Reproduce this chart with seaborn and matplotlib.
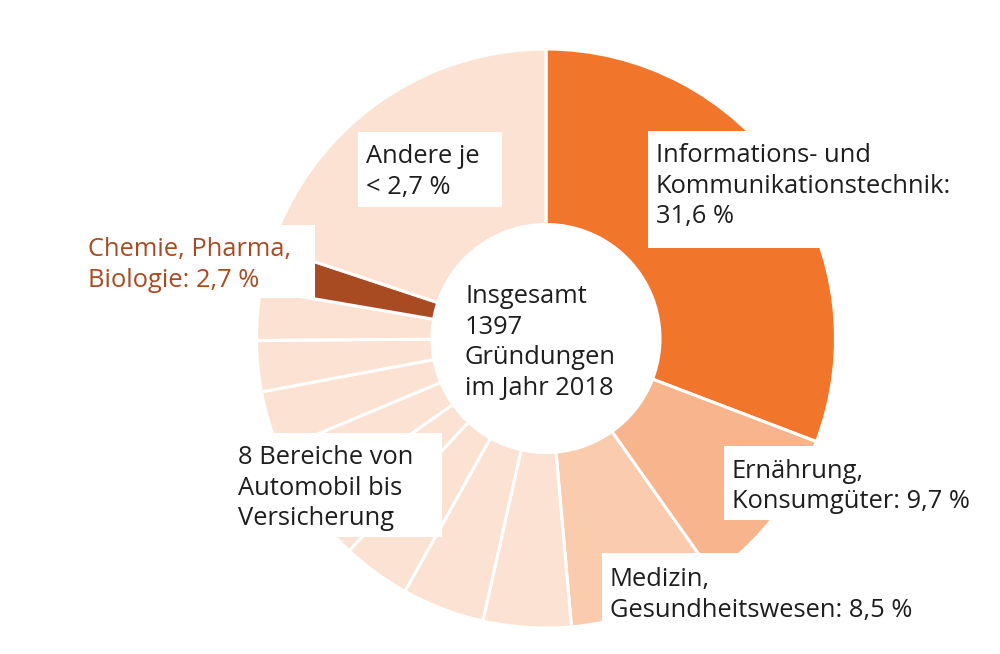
import matplotlib
matplotlib.use('Agg')
import matplotlib.pyplot as plt
from matplotlib.patches import Rectangle
import seaborn as sns

# Anteile im Uhrzeigersinn ab 12 Uhr (in %)
bereiche = ['Informations- und Kommunikationstechnik', 'Ernährung, Konsumgüter',
            'Medizin, Gesundheitswesen',
            'Bereich 1', 'Bereich 2', 'Bereich 3', 'Bereich 4',
            'Bereich 5', 'Bereich 6', 'Bereich 7', 'Bereich 8',
            'Chemie, Pharma, Biologie', 'Andere']
anteile = [30.8, 9.4, 8.4, 4.9, 4.6, 3.8, 3.3, 3.5, 3.35, 2.85, 2.8, 2.4, 19.9]
farben = ['#F2752C', '#F8B58D', '#FBCBAD'] + ['#FCE2D2'] * 8 + ['#A84B23', '#FCE2D2']

# Beschriftungen
label_mitte = ['Insgesamt', '1397', 'Gründungen', 'im Jahr 2018']
label_ikt = ['Informations- und', 'Kommunikationstechnik:', '31,6 %']
label_ern = ['Ernährung,', 'Konsumgüter: 9,7 %']
label_med = ['Medizin,', 'Gesundheitswesen: 8,5 %']
label_acht = ['8 Bereiche von', 'Automobil bis', 'Versicherung']
label_chemie = ['Chemie, Pharma,', 'Biologie: 2,7 %']
label_andere = ['Andere je', '< 2,7 %']

sns.set_style('white')
plt.rcParams['font.family'] = ['Open Sans', 'DejaVu Sans']

textfarbe = '#1E1E1E'
zeilenabstand = 30.7

fig = plt.figure(figsize=(10, 6.54), dpi=100)
ax = fig.add_axes([0, 0, 1, 1])

# y-Achse ist invertiert, daher Start bei -90 und counterclock=True (= im Uhrzeigersinn)
ax.pie(anteile, colors=farben, startangle=-90, counterclock=True,
       center=(546, 338.5), radius=289.5,
       wedgeprops=dict(width=175.5, edgecolor='white', linewidth=2.2))
ax.set_xlim(0, 1000)
ax.set_ylim(654, 0)
ax.set_aspect('equal')
ax.axis('off')

# weisse Kaesten hinter den Beschriftungen
kaesten = [(358, 132, 502, 207), (648, 131, 975, 248), (80, 225, 315, 298),
           (228, 433, 442, 537), (724, 446, 985, 520), (602, 553, 930, 654)]
for x0, y0, x1, y1 in kaesten:
    ax.add_patch(Rectangle((x0, y0), x1 - x0, y1 - y0, facecolor='white',
                           edgecolor='none', zorder=2))


def schreibe(zeilen, x, y, farbe=textfarbe):
    for i, z in enumerate(zeilen):
        ax.text(x, y + i * zeilenabstand, z, fontsize=18.4, color=farbe,
                ha='left', va='baseline', zorder=3)


schreibe(label_mitte, 465, 303)
schreibe(label_andere, 366, 163)
schreibe(label_ikt, 656, 162)
schreibe(label_chemie, 88, 256, farbe='#A84B23')
schreibe(label_acht, 238, 464)
schreibe(label_ern, 732, 477.5)
schreibe(label_med, 610, 586)

fig.savefig('out.png', dpi=100)
